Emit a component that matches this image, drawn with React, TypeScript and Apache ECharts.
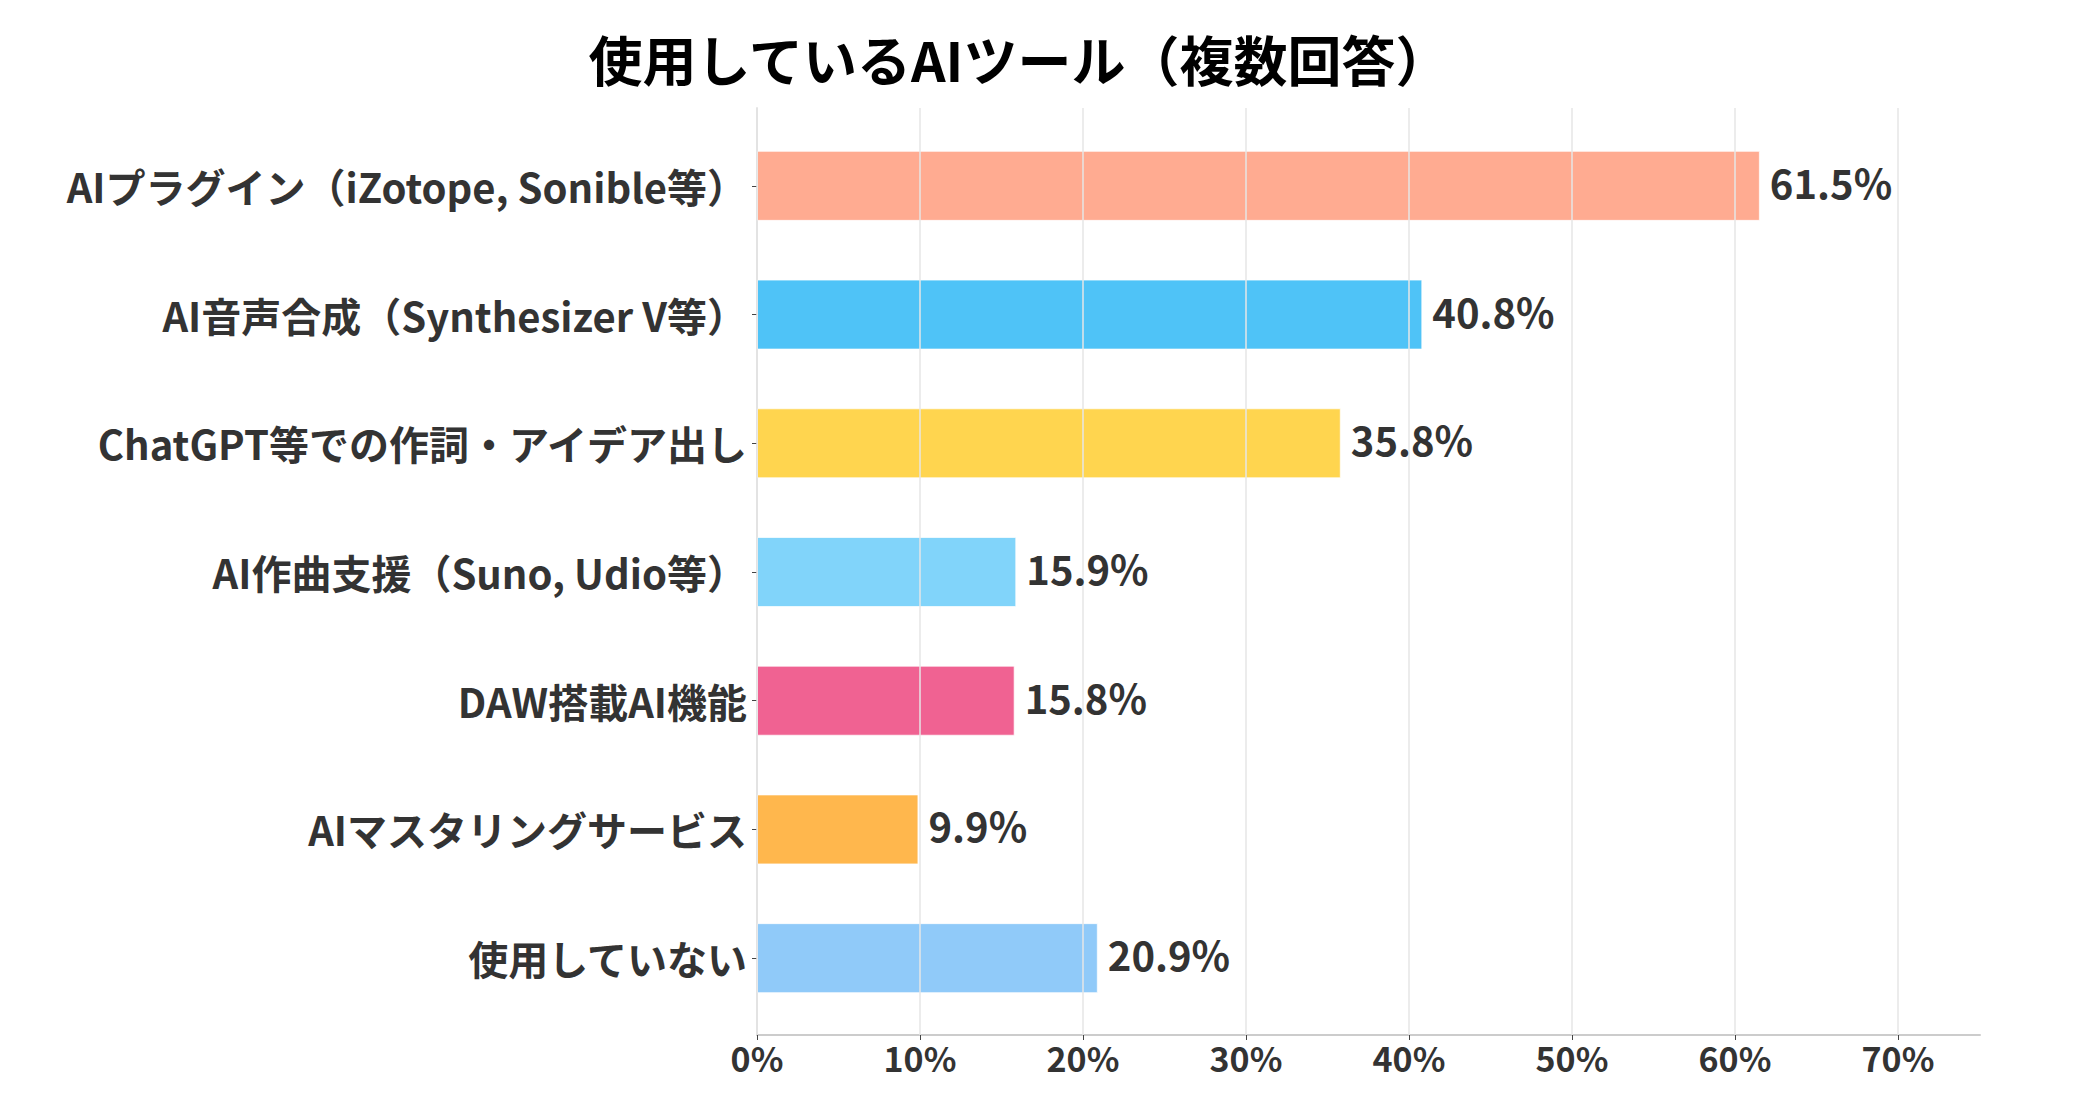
import React, { useEffect, useRef } from "react";
import * as echarts from "echarts";

const titleText = "使用しているAIツール（複数回答）";
const categories = [
  "AIプラグイン（iZotope, Sonible等）",
  "AI音声合成（Synthesizer V等）",
  "ChatGPT等での作詞・アイデア出し",
  "AI作曲支援（Suno, Udio等）",
  "DAW搭載AI機能",
  "AIマスタリングサービス",
  "使用していない",
];
const values = [61.5, 40.8, 35.8, 15.9, 15.8, 9.9, 20.9];
const barColors = ["#FFAB91", "#4FC3F7", "#FFD54F", "#81D4FA", "#F06292", "#FFB74D", "#90CAF9"];
const tickValues = [0, 10, 20, 30, 40, 50, 60, 70];

const FONT = "'Noto Sans CJK JP', 'Noto Sans', sans-serif";

export default function App() {
  const ref = useRef<HTMLDivElement>(null);
  useEffect(() => {
    if (!ref.current) return;
    const chart = echarts.init(ref.current, undefined, { renderer: "svg" });
    const tickMax = tickValues[tickValues.length - 1];
    chart.setOption({
      animation: false,
      backgroundColor: "#ffffff",
      textStyle: { fontFamily: FONT },
      graphic: [
        {
          type: "text",
          x: 1019,
          y: 58,
          style: {
            text: titleText,
            fontFamily: FONT,
            fontSize: 54,
            fontWeight: "bold",
            fill: "#000000",
            textAlign: "center",
            textVerticalAlign: "middle",
          },
        },
      ],
      grid: [
        { left: 757, top: 108, width: 1223, height: 927 },
        { left: 757, top: 108, width: 1141, height: 927 },
        { left: 757, top: 121.5, width: 1223, height: 901 },
      ],
      xAxis: [
        {
          gridIndex: 0,
          type: "value",
          min: 0,
          max: 75,
          axisLine: { show: true, lineStyle: { color: "#cccccc", width: 2 } },
          axisTick: { show: false },
          axisLabel: { show: false },
          splitLine: { show: false },
        },
        {
          gridIndex: 1,
          type: "value",
          min: 0,
          max: tickMax,
          interval: 10,
          z: 3,
          axisLine: { show: false },
          axisTick: { show: true, length: 5, lineStyle: { color: "#444444", width: 1 } },
          axisLabel: {
            show: true,
            formatter: "{value}%",
            fontFamily: FONT,
            fontSize: 34,
            fontWeight: "bold",
            color: "#333333",
            margin: 5,
          },
          splitLine: { show: true, lineStyle: { color: "#e6e6e6", width: 1.5 } },
        },
        {
          gridIndex: 2,
          type: "value",
          min: 0,
          max: 75,
          show: false,
        },
      ],
      yAxis: [
        {
          gridIndex: 0,
          type: "value",
          min: 0,
          max: 1,
          axisLine: { show: true, lineStyle: { color: "#cccccc", width: 1.5 } },
          axisTick: { show: false },
          axisLabel: { show: false },
          splitLine: { show: false },
        },
        {
          gridIndex: 1,
          type: "value",
          min: 0,
          max: 1,
          show: false,
        },
        {
          gridIndex: 2,
          type: "category",
          inverse: true,
          data: categories,
          axisLine: { show: false },
          axisTick: {
            show: true,
            alignWithLabel: true,
            length: 5,
            lineStyle: { color: "#444444", width: 1 },
          },
          axisLabel: {
            fontFamily: FONT,
            fontSize: 40,
            fontWeight: "bold",
            color: "#333333",
            margin: 10,
          },
          splitLine: { show: false },
        },
      ],
      series: [
        {
          type: "bar",
          xAxisIndex: 2,
          yAxisIndex: 2,
          z: 1,
          barWidth: 70,
          data: values.map((v, i) => ({
            value: v,
            itemStyle: { color: barColors[i], borderColor: "rgba(255,255,255,0.7)", borderWidth: 1 },
          })),
        },
        {
          type: "bar",
          xAxisIndex: 2,
          yAxisIndex: 2,
          z: 5,
          barWidth: 70,
          barGap: "-100%",
          itemStyle: { color: "rgba(0,0,0,0)" },
          data: values,
          label: {
            show: true,
            position: "right",
            distance: 10,
            offset: [0, -4],
            formatter: (p: any) => Number(p.value).toFixed(1) + "%",
            fontFamily: FONT,
            fontSize: 40,
            fontWeight: "bold",
            color: "#333333",
          },
        },
      ],
    });
    return () => chart.dispose();
  }, []);
  return (
    <div
      ref={ref}
      style={{ position: "absolute", left: 0, top: 0, width: 2100, height: 1100 }}
    />
  );
}
